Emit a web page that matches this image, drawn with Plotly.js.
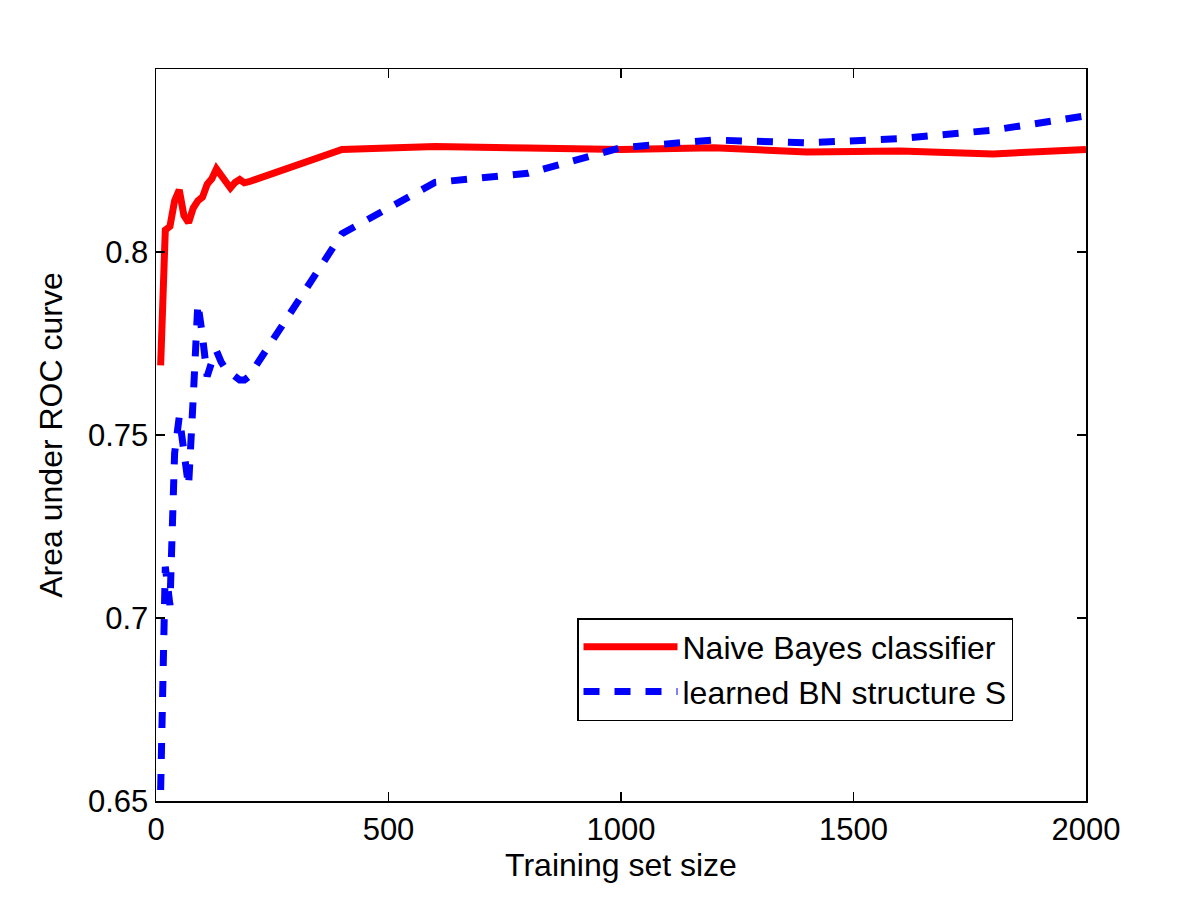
<!DOCTYPE html>
<html>
<head>
<meta charset="utf-8">
<script src="https://cdn.plot.ly/plotly-3.0.1.min.js"></script>
<style>html,body{margin:0;padding:0;background:#fff;}#chart{width:1200px;height:903px;}</style>
</head>
<body>
<div id="chart"></div>
<script>
var trainingSize = [10,20,30,40,50,60,70,80,90,100,110,120,130,140,150,160,170,180,190,200,400,600,800,1000,1200,1400,1600,1800,2000];
var naiveBayes = [0.769,0.806,0.807,0.814,0.817,0.810,0.808,0.812,0.814,0.815,0.8185,0.820,0.8227,0.821,0.819,0.8175,0.819,0.8198,0.8189,0.8192,0.828,0.8288,0.8284,0.828,0.8285,0.8273,0.8276,0.8268,0.828];
var learnedBN = [0.653,0.714,0.7035,0.745,0.755,0.745,0.736,0.760,0.786,0.777,0.766,0.770,0.773,0.770,0.768,0.767,0.766,0.765,0.765,0.766,0.805,0.819,0.8215,0.8285,0.8306,0.8298,0.831,0.8333,0.8372];
var seriesNames = ["Naive Bayes classifier", "learned BN structure S"];
var xTicks = [0,500,1000,1500,2000];
var yTicks = [0.65,0.7,0.75,0.8];
var yTickText = ["0.65","0.7","0.75","0.8"];

var titleFont = {family: "Liberation Sans, Arial, sans-serif", size: 32, color: "#000"};
var tickFont = {family: "Liberation Sans, Arial, sans-serif", size: 31, color: "#000"};

var traces = [
  {x: trainingSize, y: naiveBayes, name: seriesNames[0], type: "scatter", mode: "lines",
   line: {color: "#ff0000", width: 7}},
  {x: trainingSize, y: learnedBN, name: seriesNames[1], type: "scatter", mode: "lines",
   line: {color: "#0000ff", width: 7, dash: "16px,15px"}}
];

var axisCommon = {showgrid: false, zeroline: false, showline: true, mirror: "ticks",
  linecolor: "#000", linewidth: 1.5, ticks: "inside", ticklen: 9, tickwidth: 1.2, tickcolor: "#000",
  tickfont: tickFont};

var layout = {
  width: 1200, height: 903,
  paper_bgcolor: "#fff", plot_bgcolor: "#fff",
  margin: {l: 156, r: 114, t: 69, b: 102},
  showlegend: true,
  legend: {x: 0.4527, y: 0.25, xanchor: "left", yanchor: "top",
    bgcolor: "#fff", bordercolor: "#000", borderwidth: 1.5,
    font: titleFont, itemwidth: 94, tracegroupgap: 0},
  xaxis: Object.assign({}, axisCommon, {range: [0, 2000], tickvals: xTicks, ticktext: xTicks.map(String),
    title: {text: "Training set size", font: titleFont, standoff: 6}}),
  yaxis: Object.assign({}, axisCommon, {range: [0.65, 0.85], tickvals: yTicks, ticktext: yTickText,
    title: {text: "Area under ROC curve", font: titleFont, standoff: 16}})
};

Plotly.newPlot("chart", traces, layout, {displayModeBar: false, staticPlot: true});
</script>
</body>
</html>
